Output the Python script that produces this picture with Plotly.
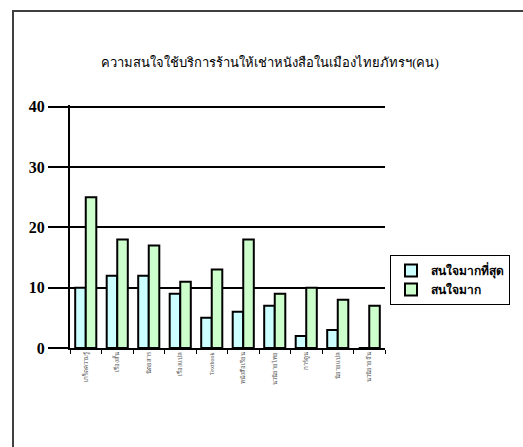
import plotly.graph_objects as go

categories = ["เกร็ดความรู้", "เรื่องสั้น", "นิตยสาร", "เรื่องแปล", "Textbook",
              "หนังสือเรียน", "นวนิยายไทย", "การ์ตูน", "นิยายแปล", "นวนิยายจีน"]
most_interested = [10, 12, 12, 9, 5, 6, 7, 2, 3, 0]
very_interested = [25, 18, 17, 11, 13, 18, 9, 10, 8, 7]
series_names = ["สนใจมากที่สุด", "สนใจมาก"]
y_ticks = [0, 10, 20, 30, 40]
title_text = "ความสนใจใช้บริการร้านให้เช่าหนังสือในเมืองไทยภัทรฯ(คน)"

W, H = 523, 447
L, R, T, B = 70, 138, 105, 99
pw, ph = W - L - R, H - T - B

fig = go.Figure()
fig.add_trace(go.Bar(x=categories, y=most_interested, name=series_names[0],
                     marker=dict(color="#CCFFFF", line=dict(color="black", width=2))))
fig.add_trace(go.Bar(x=categories, y=very_interested, name=series_names[1],
                     marker=dict(color="#CCFFCC", line=dict(color="black", width=2))))

def px2paper_x(px):
    return (px - L) / pw

def px2paper_y(py):
    return (H - B - py) / ph

fig.update_layout(
    width=W, height=H,
    margin=dict(l=L, r=R, t=T, b=B),
    paper_bgcolor="white", plot_bgcolor="white",
    barmode="group", bargap=0.33, bargroupgap=0.0,
    font=dict(family="Liberation Serif, Times New Roman, serif", color="black"),
    title=dict(text=title_text, x=(270) / W, xanchor="center",
               y=1 - 62 / H, yanchor="middle", yref="container",
               font=dict(size=13, family="Liberation Serif, serif", color="black")),
    showlegend=True,
    legend=dict(x=px2paper_x(390), y=px2paper_y(255), xanchor="left", yanchor="top",
                bordercolor="black", borderwidth=1, bgcolor="white",
                font=dict(size=12, family="Liberation Serif, serif", color="black",
                          weight="bold"),
                tracegroupgap=6),
    xaxis=dict(showline=True, linecolor="black", linewidth=2,
               ticks="outside", tickson="boundaries", ticklen=4, tickcolor="black",
               tickwidth=1, tickangle=-90,
               tickfont=dict(size=6, color="#555555"),
               showgrid=False, fixedrange=True),
    yaxis=dict(range=[0, 40.3], tickvals=y_ticks, showline=True, linecolor="black",
               linewidth=2, showgrid=True, gridcolor="black", gridwidth=2,
               ticks="outside", ticklen=20, tickwidth=2, tickcolor="black",
               zeroline=False,
               tickfont=dict(size=16, family="Liberation Serif, serif", color="black",
                             weight="bold"),
               fixedrange=True),
    shapes=[dict(type="rect", xref="paper", yref="paper",
                 x0=px2paper_x(13), x1=px2paper_x(560),
                 y0=px2paper_y(480), y1=px2paper_y(11),
                 line=dict(color="#404040", width=2), fillcolor="rgba(0,0,0,0)",
                 layer="below")],
)

fig.write_html("out.html")
